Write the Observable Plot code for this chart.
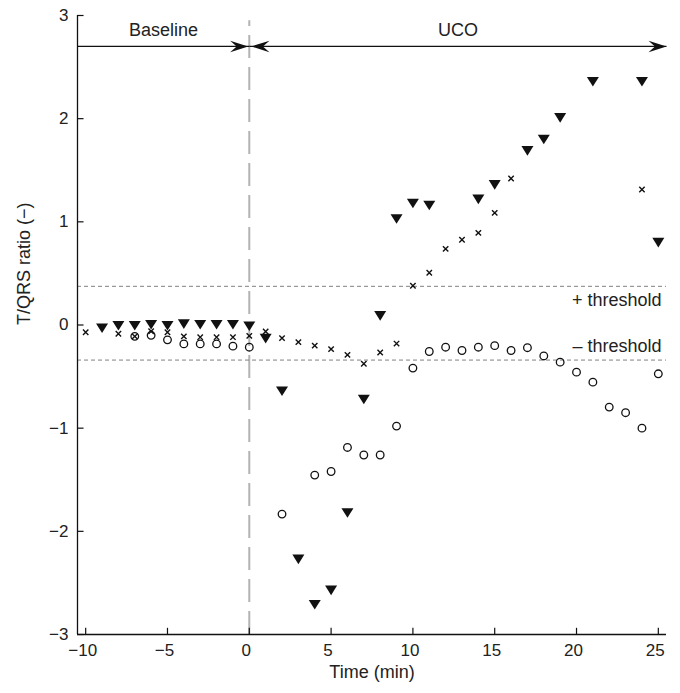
<!DOCTYPE html>
<html>
<head>
<meta charset="utf-8">
<script src="https://cdn.jsdelivr.net/npm/d3@7"></script>
<script src="https://cdn.jsdelivr.net/npm/@observablehq/plot@0.6"></script>
<style>
  html, body { margin: 0; padding: 0; background: white; }
</style>
</head>
<body>
<div id="chart"></div>
<script>
// ---- data ----
const xTicks = [-10, -5, 0, 5, 10, 15, 20, 25];
const yTicks = [-3, -2, -1, 0, 1, 2, 3];

// filled down-triangles
const triTimes  = [-9, -8, -7, -6, -5, -4, -3, -2, -1, 0, 1, 2, 3, 4, 5, 6, 7, 8, 9, 10, 11, 14, 15, 17, 18, 19, 21, 24, 25];
const triValues = [-0.03, -0.005, -0.005, 0.005, -0.005, 0.01, 0.005, 0.005, 0.005, -0.01, -0.13, -0.64, -2.27, -2.71, -2.57, -1.82, -0.72, 0.09, 1.03, 1.18, 1.16, 1.22, 1.36, 1.69, 1.80, 2.01, 2.36, 2.36, 0.80];

// small crosses
const crossTimes  = [-10, -8, -7, -6, -5, -4, -3, -2, -1, 0, 1, 2, 3, 4, 5, 6, 7, 8, 9, 10, 11, 12, 13, 14, 15, 16, 24];
const crossValues = [-0.07, -0.085, -0.11, -0.06, -0.07, -0.11, -0.118, -0.118, -0.118, -0.105, -0.063, -0.127, -0.166, -0.20, -0.234, -0.29, -0.376, -0.266, -0.18, 0.38, 0.506, 0.738, 0.826, 0.893, 1.087, 1.42, 1.313];

// open circles
const circTimes  = [-7, -6, -5, -4, -3, -2, -1, 0, 2, 4, 5, 6, 7, 8, 9, 10, 11, 12, 13, 14, 15, 16, 17, 18, 19, 20, 21, 22, 23, 24, 25];
const circValues = [-0.11, -0.10, -0.144, -0.183, -0.183, -0.183, -0.205, -0.215, -1.833, -1.455, -1.42, -1.187, -1.26, -1.26, -0.98, -0.418, -0.257, -0.215, -0.247, -0.215, -0.20, -0.247, -0.22, -0.30, -0.36, -0.457, -0.554, -0.796, -0.85, -1.0, -0.473];

// thresholds
const thresholdValues = [0.375, -0.34];
const thresholdLabels = ["+ threshold", "– threshold"];

// periods
const periodNames  = ["Baseline", "UCO"];
const periodStarts = [-10.5, 0];
const periodEnds   = [0, 25.5];

const xLabel = "Time (min)";
const yLabel = "T/QRS ratio (−)";

// ---- build tables ----
const zip = (ts, vs) => ts.map((t, i) => ({t, v: vs[i]}));
const tri = zip(triTimes, triValues);
const cross = zip(crossTimes, crossValues);
const circ = zip(circTimes, circValues);
const periods = periodNames.map((name, i) => ({name, start: periodStarts[i], end: periodEnds[i]}));

const xDomain = [-10.5, 25.5];
const yDomain = [-3, 3];
const arrowY = 2.70;
const labelY = 2.86;

// ---- custom symbols ----
const triangleDown = {draw(ctx) {
  ctx.moveTo(-6, -4.6); ctx.lineTo(6, -4.6); ctx.lineTo(0, 5); ctx.closePath();
}};
const crossSym = {draw(ctx) {
  const a = 2.7;
  ctx.moveTo(-a, -a); ctx.lineTo(a, a); ctx.moveTo(-a, a); ctx.lineTo(a, -a);
}};
const headRight = {draw(ctx) {
  ctx.moveTo(0, 0); ctx.lineTo(-18, -5.8); ctx.lineTo(-11.5, 0); ctx.lineTo(-18, 5.8); ctx.closePath();
}};
const headLeft = {draw(ctx) {
  ctx.moveTo(0, 0); ctx.lineTo(18, -5.8); ctx.lineTo(11.5, 0); ctx.lineTo(18, 5.8); ctx.closePath();
}};

const font = "'Liberation Sans', Arial, Helvetica, sans-serif";

const chart = Plot.plot({
  width: 680,
  height: 693,
  marginTop: 15,
  marginRight: 14,
  marginBottom: 59,
  marginLeft: 77,
  style: {fontFamily: font, fontSize: "17px", background: "white", color: "black"},
  x: {domain: xDomain},
  y: {domain: yDomain},
  marks: [
    // zero dashed vertical
    Plot.ruleX([0], {y1: -3, y2: 2.95, stroke: "#b3b3b3", strokeWidth: 2, strokeDasharray: "23,9"}),
    // thresholds
    Plot.ruleY(thresholdValues, {x1: xDomain[0], x2: xDomain[1], stroke: "#808080", strokeWidth: 1, strokeDasharray: "4,3"}),
    Plot.text(thresholdValues, {
      x: 25.2,
      y: (d, i) => d > 0 ? d - 0.135 : d + 0.13,
      text: (d, i) => thresholdLabels[i],
      textAnchor: "end", fontSize: 18, fill: "#222"
    }),
    // axes lines
    Plot.ruleX([xDomain[0]], {y1: yDomain[0], y2: yDomain[1], stroke: "#111", strokeWidth: 1.3}),
    Plot.ruleY([yDomain[0]], {x1: xDomain[0], x2: xDomain[1], stroke: "#111", strokeWidth: 1.3}),
    // inward ticks
    Plot.ruleY(yTicks, {x1: xDomain[0], x2: xDomain[0] + 0.4, stroke: "#111", strokeWidth: 1.2}),
    Plot.ruleX(xTicks, {y1: yDomain[0], y2: yDomain[0] + 0.06, stroke: "#111", strokeWidth: 1.2}),
    Plot.axisX(xTicks, {tickSize: 0, tickPadding: 9, label: null, fontSize: 17, dx: -3, tickFormat: "d", fill: "#222"}),
    Plot.axisY(yTicks, {tickSize: 0, tickPadding: 9, label: null, fontSize: 17, tickFormat: "d", fill: "#222"}),
    // axis titles
    Plot.text([xLabel], {frameAnchor: "bottom", dy: 43, fontSize: 18, text: d => d, fill: "#222"}),
    Plot.text([yLabel], {frameAnchor: "left", dx: -53, rotate: -90, fontSize: 18, text: d => d, fill: "#222"}),
    // period arrows
    Plot.link(periods, {x1: d => d.start, x2: d => d.end, y1: arrowY, y2: arrowY,
      stroke: "#111", strokeWidth: 1.3}),
    Plot.dot(periods, {x: d => d.end === 0 ? -0.07 : d.end, y: arrowY, symbol: headRight, fill: "#111", stroke: "none", r: 5}),
    Plot.dot(periods.filter(d => d.start === 0), {x: 0.13, y: arrowY, symbol: headLeft, fill: "#111", stroke: "none", r: 5}),
    Plot.text(periods, {x: d => (d.start + d.end) / 2, y: labelY, text: d => d.name, fontSize: 18, fill: "#222"}),
    // data
    Plot.dot(circ, {x: "t", y: "v", r: 3.8, stroke: "#111", strokeWidth: 1.3, fill: "none"}),
    Plot.dot(cross, {x: "t", y: "v", symbol: crossSym, r: 3, stroke: "#111", strokeWidth: 1.4, fill: "none"}),
    Plot.dot(tri, {x: "t", y: "v", symbol: triangleDown, r: 5, fill: "#111", stroke: "none"})
  ]
});

document.getElementById("chart").appendChild(chart);
</script>
</body>
</html>
